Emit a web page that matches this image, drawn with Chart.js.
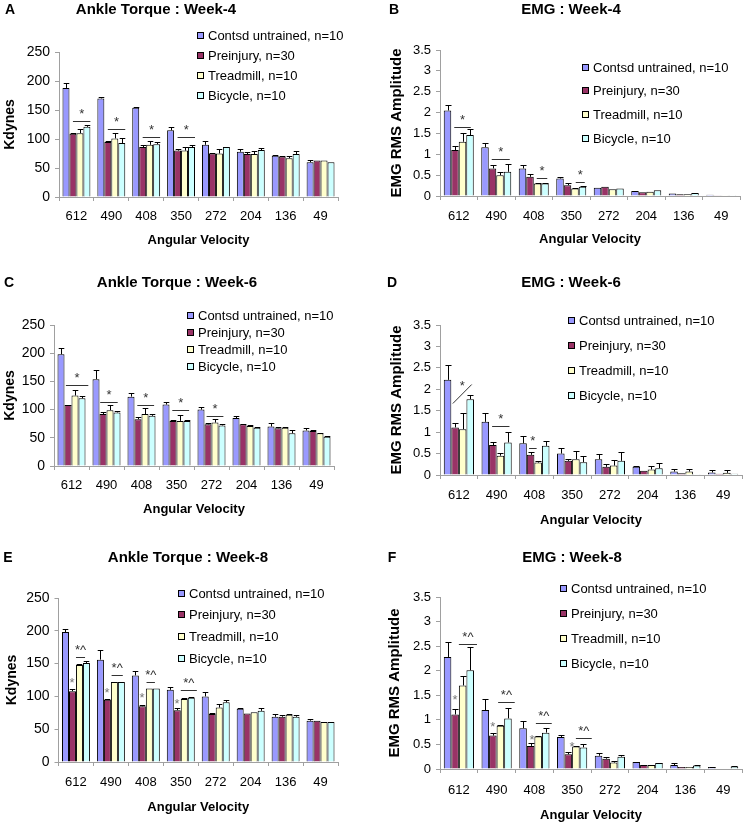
<!DOCTYPE html>
<html>
<head>
<meta charset="utf-8">
<script src="https://cdn.jsdelivr.net/npm/chart.js@4.4.1/dist/chart.umd.min.js"></script>
<style>
  body { margin: 0; background: #fff; }
  #wrap { position: relative; width: 751px; height: 826px; }
  #wrap canvas { position: absolute; }
</style>
</head>
<body>
<div id="wrap">
  <canvas id="pA" width="375" height="270" style="left:0;top:0"></canvas>
  <canvas id="pB" width="376" height="270" style="left:375px;top:0"></canvas>
  <canvas id="pC" width="375" height="275" style="left:0;top:270px"></canvas>
  <canvas id="pD" width="376" height="275" style="left:375px;top:270px"></canvas>
  <canvas id="pE" width="375" height="281" style="left:0;top:545px"></canvas>
  <canvas id="pF" width="376" height="281" style="left:375px;top:545px"></canvas>
</div>
<script>
// ---- data ----
const velocities = ["612", "490", "408", "350", "272", "204", "136", "49"];
const seriesNames = ["Contsd untrained, n=10", "Preinjury, n=30", "Treadmill, n=10", "Bicycle, n=10"];
const torqueTicks = [0, 50, 100, 150, 200, 250];
const emgTicks = [0, 0.5, 1, 1.5, 2, 2.5, 3, 3.5];

// rows: contsd, preinjury, treadmill, bicycle
const torqueW4 = [
  [188, 170, 154, 115, 90, 78, 71, 60],
  [109, 95, 86, 80, 75, 74, 70, 63],
  [110, 101, 90, 80, 75, 74, 67, 63],
  [121, 93, 91, 86, 86, 81, 74, 60]
];
const torqueW4Err = [
  [8, 3, 1, 5, 6, 5, 1, 3],
  [1, 1, 3, 2, 1, 3, 1, 0],
  [8, 9, 7, 7, 8, 5, 4, 0],
  [3, 8, 4, 3, 1, 4, 5, 0]
];
const emgW4 = [
  [2.05, 1.17, 0.66, 0.42, 0.2, 0.12, 0.06, 0.03],
  [1.1, 0.66, 0.46, 0.26, 0.22, 0.09, 0.04, 0.02],
  [1.3, 0.5, 0.3, 0.18, 0.16, 0.1, 0.04, 0.02],
  [1.46, 0.58, 0.3, 0.22, 0.18, 0.14, 0.07, 0.02]
];
const emgW4Err = [
  [0.13, 0.11, 0.08, 0.04, 0, 0, 0, 0],
  [0.1, 0.08, 0.07, 0.06, 0, 0, 0, 0],
  [0.22, 0.08, 0.02, 0.02, 0, 0, 0, 0],
  [0.14, 0.19, 0.02, 0.02, 0, 0, 0, 0]
];
const torqueW6 = [
  [198, 154, 123, 109, 100, 85, 70, 63],
  [108, 92, 83, 80, 74, 74, 67, 62],
  [125, 99, 92, 80, 77, 71, 68, 58],
  [120, 95, 89, 80, 72, 68, 58, 52]
];
const torqueW6Err = [
  [12, 17, 6, 4, 5, 4, 6, 4],
  [1, 3, 3, 1, 2, 1, 3, 1],
  [9, 9, 10, 10, 6, 1, 1, 1],
  [5, 2, 3, 1, 2, 1, 5, 1]
];
const emgW6 = [
  [2.22, 1.24, 0.74, 0.5, 0.37, 0.19, 0.08, 0.06],
  [1.11, 0.7, 0.47, 0.33, 0.19, 0.1, 0.04, 0.03],
  [1.07, 0.45, 0.29, 0.37, 0.22, 0.13, 0.08, 0.05],
  [1.77, 0.76, 0.68, 0.3, 0.33, 0.16, 0.02, 0.03]
];
const emgW6Err = [
  [0.35, 0.2, 0.18, 0.12, 0.13, 0.03, 0.05, 0.06],
  [0.11, 0.06, 0.07, 0.04, 0.06, 0, 0, 0],
  [0.37, 0.06, 0.04, 0.2, 0.13, 0.08, 0.05, 0.07],
  [0.1, 0.24, 0.11, 0.15, 0.21, 0.11, 0, 0]
];
const torqueW8 = [
  [198, 156, 132, 110, 100, 81, 69, 63],
  [108, 95, 85, 79, 73, 74, 69, 63],
  [148, 122, 112, 96, 83, 76, 72, 61],
  [151, 122, 112, 98, 91, 78, 69, 61]
];
const torqueW8Err = [
  [4, 15, 6, 5, 7, 1, 4, 3],
  [3, 1, 2, 3, 2, 0, 3, 0],
  [1, 0, 0, 1, 5, 0, 1, 0],
  [3, 0, 0, 1, 4, 5, 2, 0]
];
const emgW8 = [
  [2.28, 1.2, 0.83, 0.65, 0.27, 0.14, 0.08, 0.04],
  [1.11, 0.68, 0.47, 0.3, 0.21, 0.08, 0.04, 0.01],
  [1.7, 0.88, 0.66, 0.46, 0.13, 0.08, 0.04, 0.01],
  [2.01, 1.03, 0.74, 0.44, 0.25, 0.12, 0.07, 0.05]
];
const emgW8Err = [
  [0.3, 0.23, 0.15, 0.05, 0.05, 0.01, 0.04, 0.01],
  [0.11, 0.06, 0.06, 0.05, 0.04, 0, 0, 0],
  [0.19, 0.01, 0.01, 0.01, 0.04, 0, 0, 0],
  [0.47, 0.21, 0.1, 0.06, 0.04, 0.01, 0.01, 0.01]
];

// significance marks: cat = velocity index, from/to/at in bar widths inside the group, v = value
const torqueW4Marks = [
  { cat: 0, from: 1.5, to: 4, v: 131, label: "*" },
  { cat: 1, from: 1.5, to: 4, v: 117, label: "*" },
  { cat: 2, from: 1.5, to: 4, v: 103, label: "*" },
  { cat: 3, from: 1.5, to: 4, v: 103, label: "*" }
];
const emgW4Marks = [
  { cat: 0, from: 1.4, to: 3.6, v: 1.66, label: "*" },
  { cat: 1, from: 1.4, to: 3.8, v: 0.89, label: "*" },
  { cat: 2, from: 2.4, to: 3.8, v: 0.42, label: "*" },
  { cat: 3, from: 2.6, to: 3.8, v: 0.33, label: "*" }
];
const torqueW6Marks = [
  { cat: 0, from: 1.2, to: 4.4, v: 144, label: "*" },
  { cat: 1, from: 1.1, to: 3.6, v: 113, label: "*" },
  { cat: 2, from: 1.4, to: 3.8, v: 108, label: "*" },
  { cat: 3, from: 1.4, to: 3.8, v: 99, label: "*" },
  { cat: 4, from: 1.3, to: 3.7, v: 89, label: "*" }
];
const emgW6Marks = [
  { cat: 0, from: 1.2, to: 3.7, v: 1.68, v2: 2.12, label: "*" },
  { cat: 1, from: 1.4, to: 3.7, v: 1.14, label: "*" },
  { cat: 2, from: 1.3, to: 2.3, v: 0.63, label: "*" }
];
const torqueW8Marks = [
  { cat: 0, at: 1.45, v: 126, label: "*" },
  { cat: 1, at: 1.45, v: 111, label: "*" },
  { cat: 2, at: 1.45, v: 103, label: "*" },
  { cat: 3, at: 1.45, v: 93, label: "*" },
  { cat: 0, from: 2.0, to: 3.3, v: 160, label: "*^" },
  { cat: 1, from: 2.1, to: 3.7, v: 132, label: "*^" },
  { cat: 2, from: 2.1, to: 3.3, v: 122, label: "*^" },
  { cat: 3, from: 2.0, to: 4.3, v: 109, label: "*^" }
];
const emgW8Marks = [
  { cat: 0, at: 1.5, v: 1.47, label: "*" },
  { cat: 1, at: 1.5, v: 0.92, label: "*" },
  { cat: 2, at: 1.7, v: 0.66, label: "*" },
  { cat: 3, at: 2.0, v: 0.51, label: "*" },
  { cat: 0, from: 2.0, to: 4.4, v: 2.55, label: "*^" },
  { cat: 1, from: 2.2, to: 4.4, v: 1.37, label: "*^" },
  { cat: 2, from: 2.2, to: 4.3, v: 0.93, label: "*^" },
  { cat: 3, from: 2.5, to: 4.6, v: 0.64, label: "*^" }
];

// ---- drawing ----
const FONT = "'Liberation Sans', Arial, Helvetica, sans-serif";
const seriesColors = ["#9999ff", "#993366", "#ffffcc", "#ccffff"];
const axisGray = "#a0a0a0";
Chart.defaults.font.family = FONT;
Chart.defaults.color = "#000";

function barPos(chart, cat, pos) {
  var el = chart.getDatasetMeta(0).data[cat];
  return el.x - el.width / 2 + pos * el.width;
}

// upper error bars with a cap
var errorBarPlugin = {
  id: "errorBars",
  afterDatasetsDraw(chart) {
    var ctx = chart.ctx, y = chart.scales.y;
    ctx.save();
    ctx.strokeStyle = "#000";
    ctx.lineWidth = 1;
    chart.data.datasets.forEach(function(ds, i) {
      var meta = chart.getDatasetMeta(i);
      meta.data.forEach(function(bar, j) {
        var err = ds.errors[j];
        if (!err) return;
        var top = Math.round(y.getPixelForValue(ds.data[j] + err)) + 0.5;
        var x = Math.round(bar.x) + 0.5;
        var cap = bar.width * 0.4;
        ctx.beginPath();
        ctx.moveTo(x, bar.y);
        ctx.lineTo(x, top);
        ctx.moveTo(x - cap, top);
        ctx.lineTo(x + cap, top);
        ctx.stroke();
      });
    });
    ctx.restore();
  }
};

function sigPlugin(marks) {
  return {
    id: "sigMarks",
    afterDatasetsDraw(chart) {
      var ctx = chart.ctx, y = chart.scales.y;
      ctx.save();
      ctx.font = "13px " + FONT;
      ctx.textAlign = "center";
      ctx.textBaseline = "alphabetic";
      ctx.lineWidth = 1;
      marks.forEach(function(m) {
        if (m.to !== undefined) {
          var x1 = barPos(chart, m.cat, m.from), x2 = barPos(chart, m.cat, m.to);
          var y1 = Math.round(y.getPixelForValue(m.v)) + 0.5;
          var y2 = Math.round(y.getPixelForValue(m.v2 !== undefined ? m.v2 : m.v)) + 0.5;
          ctx.strokeStyle = "#333";
          ctx.beginPath();
          ctx.moveTo(x1, y1);
          ctx.lineTo(x2, y2);
          ctx.stroke();
          ctx.fillStyle = "#333";
          ctx.fillText(m.label, (x1 + x2) / 2, (y1 + y2) / 2 - 4);
        } else {
          ctx.fillStyle = "#777";
          ctx.fillText(m.label, barPos(chart, m.cat, m.at), y.getPixelForValue(m.v) + 7.5);
        }
      });
      ctx.restore();
    }
  };
}

// panel letter, title and the legend box
function textPlugin(p) {
  return {
    id: "panelText",
    afterDraw(chart) {
      var ctx = chart.ctx, lay = p.lay;
      ctx.save();
      ctx.fillStyle = "#000";
      ctx.textBaseline = "middle";
      ctx.font = "bold 14px " + FONT;
      ctx.textAlign = "center";
      ctx.fillText(p.letter, lay.letterX, lay.letterY);
      ctx.font = "bold " + p.titleSize + "px " + FONT;
      ctx.fillText(p.title, lay.titleX, lay.titleY);
      ctx.font = "13px " + FONT;
      ctx.textAlign = "left";
      seriesNames.forEach(function(name, i) {
        var cy = lay.legendY + i * lay.legendGap;
        ctx.fillStyle = seriesColors[i];
        ctx.fillRect(lay.legendX, Math.round(cy - 3.5), 7, 7);
        ctx.strokeStyle = "#000";
        ctx.lineWidth = 1;
        ctx.strokeRect(lay.legendX + 0.5, Math.round(cy - 3.5) + 0.5, 6, 6);
        ctx.fillStyle = "#000";
        ctx.fillText(name, lay.legendX + 11, cy + 1);
      });
      ctx.restore();
    }
  };
}

function buildPanel(id, p) {
  var canvas = document.getElementById(id);
  var W = canvas.width, H = canvas.height, lay = p.lay;
  var xBottom = lay.xTitleY + 7.8;
  var datasets = seriesNames.map(function(name, i) {
    return {
      label: name,
      data: p.values[i],
      errors: p.errors[i],
      backgroundColor: seriesColors[i],
      borderColor: "#000",
      borderWidth: 1,
      categoryPercentage: 0.8,
      barPercentage: 1.0
    };
  });
  var ticks = p.ticks;
  new Chart(canvas, {
    type: "bar",
    data: { labels: velocities, datasets: datasets },
    options: {
      responsive: false,
      animation: false,
      devicePixelRatio: 1,
      layout: { padding: { left: 0, top: lay.T, right: W - lay.R, bottom: H - xBottom } },
      plugins: { legend: { display: false }, tooltip: { enabled: false } },
      scales: {
        x: {
          grid: { display: true, drawOnChartArea: false, offset: true, tickLength: 4, color: axisGray },
          border: { color: axisGray },
          ticks: { padding: lay.xTickY - lay.B - 11.8, font: { size: 13 }, color: "#000", maxRotation: 0 },
          title: { display: true, text: "Angular Velocity", font: { size: 13, weight: "bold" }, padding: { top: 0, bottom: 0 } },
          afterFit: function(s) { s.height = xBottom - lay.B; }
        },
        y: {
          min: 0,
          max: ticks[ticks.length - 1],
          grid: { display: true, drawOnChartArea: false, tickLength: 4, color: axisGray },
          border: { color: axisGray },
          afterBuildTicks: function(s) { s.ticks = ticks.map(function(v) { return { value: v }; }); },
          ticks: { padding: 5, font: { size: p.yTickSize }, color: "#000", callback: function(v) { return String(v); } },
          title: {
            display: true, text: p.yTitle,
            font: { size: p.yTitleSize, weight: "bold" },
            padding: { top: lay.yTitleX - p.yTitleSize * 0.6, bottom: 0 }
          },
          afterFit: function(s) { s.width = lay.L; }
        }
      }
    },
    plugins: [errorBarPlugin, sigPlugin(p.marks), textPlugin(p)]
  });
}

buildPanel("pA", {
  letter: "A", title: "Ankle Torque : Week-4", titleSize: 15,
  yTitle: "Kdynes", yTitleSize: 14, yTickSize: 14, ticks: torqueTicks,
  values: torqueW4, errors: torqueW4Err, marks: torqueW4Marks,
  lay: { L: 59, R: 338, T: 52, B: 197, xTickY: 216, xTitleY: 240, yTitleX: 10,
         titleX: 156, titleY: 10, letterX: 10, letterY: 10, legendX: 197, legendY: 35, legendGap: 20 }
});
buildPanel("pB", {
  letter: "B", title: "EMG : Week-4", titleSize: 15,
  yTitle: "EMG RMS Amplitude", yTitleSize: 15, yTickSize: 13, ticks: emgTicks,
  values: emgW4, errors: emgW4Err, marks: emgW4Marks,
  lay: { L: 65, R: 365, T: 50, B: 196, xTickY: 216, xTitleY: 239, yTitleX: 22,
         titleX: 196, titleY: 10, letterX: 19, letterY: 10, legendX: 207, legendY: 67, legendGap: 23.7 }
});
buildPanel("pC", {
  letter: "C", title: "Ankle Torque : Week-6", titleSize: 15,
  yTitle: "Kdynes", yTitleSize: 14, yTickSize: 14, ticks: torqueTicks,
  values: torqueW6, errors: torqueW6Err, marks: torqueW6Marks,
  lay: { L: 54, R: 334, T: 55, B: 196, xTickY: 215, xTitleY: 239, yTitleX: 10,
         titleX: 177, titleY: 13, letterX: 9, letterY: 13, legendX: 187, legendY: 45, legendGap: 17.3 }
});
buildPanel("pD", {
  letter: "D", title: "EMG : Week-6", titleSize: 15,
  yTitle: "EMG RMS Amplitude", yTitleSize: 15, yTickSize: 13, ticks: emgTicks,
  values: emgW6, errors: emgW6Err, marks: emgW6Marks,
  lay: { L: 65, R: 367, T: 55, B: 205, xTickY: 225, xTitleY: 250, yTitleX: 22,
         titleX: 196, titleY: 13, letterX: 17, letterY: 13, legendX: 193, legendY: 50, legendGap: 25 }
});
buildPanel("pE", {
  letter: "E", title: "Ankle Torque : Week-8", titleSize: 15,
  yTitle: "Kdynes", yTitleSize: 14, yTickSize: 14, ticks: torqueTicks,
  values: torqueW8, errors: torqueW8Err, marks: torqueW8Marks,
  lay: { L: 58.5, R: 338, T: 53, B: 217, xTickY: 237, xTitleY: 262, yTitleX: 12,
         titleX: 188, titleY: 13, letterX: 8, letterY: 13, legendX: 178, legendY: 48, legendGap: 21.7 }
});
buildPanel("pF", {
  letter: "F", title: "EMG : Week-8", titleSize: 15,
  yTitle: "EMG RMS Amplitude", yTitleSize: 15, yTickSize: 13, ticks: emgTicks,
  values: emgW8, errors: emgW8Err, marks: emgW8Marks,
  lay: { L: 65, R: 367, T: 52, B: 224, xTickY: 245, xTitleY: 270, yTitleX: 20,
         titleX: 197, titleY: 13, letterX: 17, letterY: 13, legendX: 185, legendY: 43, legendGap: 25 }
});
</script>
</body>
</html>
